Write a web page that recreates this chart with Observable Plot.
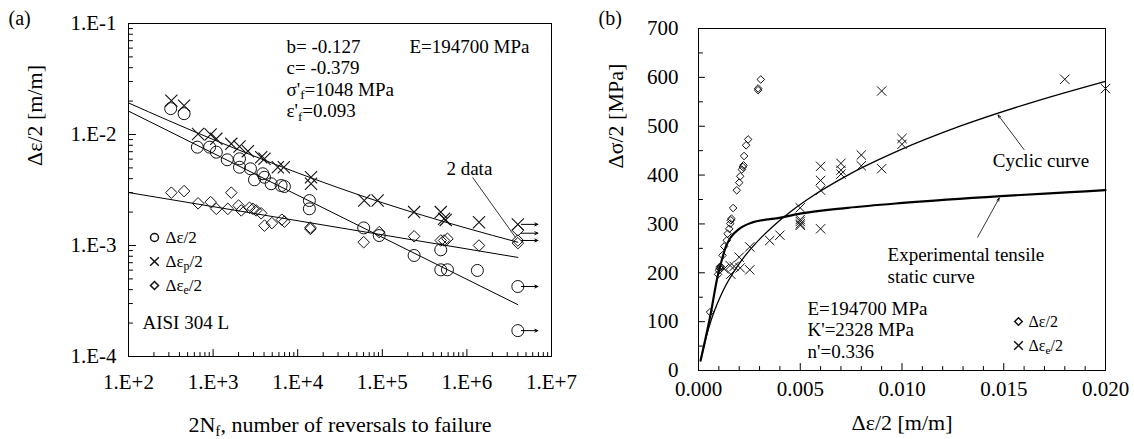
<!DOCTYPE html>
<html><head><meta charset="utf-8">
<script src="https://cdn.jsdelivr.net/npm/d3@7"></script>
<script src="https://cdn.jsdelivr.net/npm/@observablehq/plot@0.6"></script>
<style>
body{margin:0;background:#fff;}
#wrap{display:flex;width:1134px;height:439px;}
</style></head><body>
<div id="wrap"></div>
<script>
// ---------- Panel (a): strain-life ----------
const xMajorA = [1e2, 1e3, 1e4, 1e5, 1e6, 1e7];
const yMajorA = [1e-4, 1e-3, 1e-2, 1e-1];
const totalN = [100, 300, 1000, 3000, 10000, 30000, 100000, 300000, 1000000, 4000000];
const totalStrain = [0.01924, 0.01331, 0.00902, 0.00642, 0.00451, 0.00332, 0.00243, 0.00187, 0.00143, 0.00107];
const plasticN = [100, 4000000];
const plasticStrain = [0.01624, 0.000293];
const elasticN = [100, 4000000];
const elasticStrain = [0.00300, 0.000781];
const circN = [315, 454, 651, 910, 1091, 1469, 2052, 2052, 2766, 3083, 3873, 4049, 4853, 6368, 6966, 13740, 13740, 60260, 91900, 237700, 491000, 491000, 589000, 1330000, 4000000, 4000000];
const circStrain = [0.0171, 0.0154, 0.00769, 0.00769, 0.00693, 0.00592, 0.00507, 0.00604, 0.00491, 0.00391, 0.00443, 0.00412, 0.0036, 0.00347, 0.0034, 0.00254, 0.00214, 0.00144, 0.00123, 0.000813, 0.000914, 0.000604, 0.000604, 0.000596, 0.000427, 0.000171];
const crossN = [321, 454, 664, 935, 1091, 1641, 2052, 2581, 3702, 4049, 5823, 6855, 14380, 14380, 61200, 88100, 237700, 491000, 537000, 562000, 1390000, 4000000];
const crossStrain = [0.0202, 0.0182, 0.0101, 0.0100, 0.00914, 0.00824, 0.0078, 0.00708, 0.00624, 0.00604, 0.00507, 0.00507, 0.00412, 0.0036, 0.00254, 0.00254, 0.0020, 0.0020, 0.00174, 0.0017, 0.00162, 0.00155];
const diamN = [321, 454, 664, 935, 1091, 1493, 1641, 2000, 2152, 2692, 2955, 3230, 3702, 4049, 4954, 6499, 6966, 14120, 14120, 60260, 91900, 237700, 491000, 537000, 589000, 1390000, 4000000, 4000000, 4000000];
const diamStrain = [0.00299, 0.00309, 0.0024, 0.00246, 0.00214, 0.00214, 0.00299, 0.00229, 0.00207, 0.00219, 0.00214, 0.00207, 0.00195, 0.00151, 0.00159, 0.00171, 0.00164, 0.00141, 0.00145, 0.00107, 0.00132, 0.00121, 0.00111, 0.00111, 0.00115, 0.0010, 0.00137, 0.00111, 0.00105];
const runoutStrain = [0.00155, 0.00129, 0.00111, 0.000427, 0.000171];
const runoutFrom = 4.4e6, runoutTo = 6.9e6;
const twoDataLabel = {x: 1.07e6, y: 0.00491};
const twoDataLeader = {x1: 1.17e6, y1: 0.0041, x2: 3.76e6, y2: 0.00118};
const paramsA = ["b= -0.127", "c= -0.379", "σ'_{f}=1048 MPa", "ε'_{f}=0.093"];
const legendA = ["Δε/2", "Δε_{p}/2", "Δε_{e}/2"];

// ---------- Panel (b): stress-strain ----------
const xMajorB = [0, 0.005, 0.010, 0.015, 0.020];
const yMajorB = [0, 100, 200, 300, 400, 500, 600, 700];
const cyclicStrain = [0.00013, 0.000268, 0.000421, 0.0006, 0.000808, 0.00106, 0.00135, 0.0017, 0.00211, 0.00259, 0.00315, 0.00379, 0.00452, 0.00535, 0.00734, 0.00983, 0.01285, 0.01648, 0.0200];
const cyclicStress = [25, 50, 75, 100, 125, 150, 175, 200, 225, 250, 275, 300, 325, 350, 400, 450, 500, 550, 592];
const staticStrain = [0.0001, 0.0006, 0.00093, 0.0011, 0.00134, 0.00159, 0.002, 0.00257, 0.00405, 0.00498, 0.00733, 0.01003, 0.01486, 0.0183, 0.0200];
const staticStress = [20, 116, 191, 219, 253, 273, 290, 302, 313, 321, 333, 343, 357, 365, 369];
const diamBStrain = [0.00057, 0.00096, 0.00100, 0.00103, 0.00106, 0.00108, 0.00110, 0.00118, 0.00126, 0.00139, 0.00143, 0.00151, 0.00156, 0.00159, 0.00162, 0.0017, 0.00188, 0.0020, 0.00205, 0.00213, 0.00218, 0.00221, 0.00224, 0.00234, 0.00244, 0.00293, 0.00293, 0.00306];
const diamBStress = [119.5, 196.7, 205, 210, 213, 208, 212, 235.7, 254, 266.4, 280, 290, 300.6, 307.4, 310.8, 332.6, 368.9, 384.6, 397.5, 411.3, 416.6, 420, 439, 461, 473, 573.8, 577.3, 595.7];
const crossBStrain = [0.00126, 0.00155, 0.00159, 0.00175, 0.0020, 0.00205, 0.00252, 0.00252, 0.0035, 0.0040, 0.0050, 0.0050, 0.0050, 0.0050, 0.0050, 0.0060, 0.0060, 0.0060, 0.0060, 0.0070, 0.0070, 0.0070, 0.0080, 0.0080, 0.0090, 0.0090, 0.0100, 0.0100, 0.0180, 0.0200];
const crossBStress = [208, 215, 197, 213, 232, 210, 253, 206, 266, 277, 333, 309, 305, 300, 297, 290, 369, 389, 418, 424, 410, 402, 441, 419, 413, 572, 475, 463, 596, 577];
const cyclicLabel = {x: 0.01446, y: 430};
const cyclicLeader = {x1: 0.0160, y1: 452, x2: 0.01472, y2: 523};
const staticLabel = {x: 0.00929, y1: 236, y2: 191};
const staticLeader = {x1: 0.01372, y1: 273, x2: 0.01478, y2: 353};
const paramsB = ["E=194700 MPa", "K'=2328 MPa", "n'=0.336"];
const legendB = ["Δε/2", "Δε_{e}/2"];

// ---------- helpers ----------
const FONT = "Liberation Serif";
const sci = v => { const e = Math.round(Math.log10(v)); return "1.E" + (e < 0 ? "-" : "+") + Math.abs(e); };
const tickShape = {draw(c, l) { c.moveTo(0, 0); c.lineTo(0, -l); }};
const ticksX = (vals, len) => Plot.vector(vals, {x: d => d, frameAnchor: "bottom", length: len, shape: tickShape, anchor: "start", stroke: "#000", strokeWidth: 1});
const ticksY = (vals, len) => Plot.vector(vals, {y: d => d, frameAnchor: "left", length: len, rotate: 90, shape: tickShape, anchor: "start", stroke: "#000", strokeWidth: 1});
const zip = (a, b) => a.map((v, i) => ({x: v, y: b[i]}));
const txt = (data, o) => Plot.text(data, {fontFamily: FONT, ...o});
const note = (t, dx, dy, o = {}) => txt([t], {text: d => d, frameAnchor: "top-left", dx, dy, textAnchor: "start", lineAnchor: "middle", ...o});

const xMinorA = [], yMinorA = [];
for (const d of [1e2, 1e3, 1e4, 1e5, 1e6]) for (let m = 2; m <= 9; m++) xMinorA.push(d * m);
for (const d of [1e-4, 1e-3, 1e-2]) for (let m = 2; m <= 9; m++) yMinorA.push(d * m);
const xMinorB = d3.range(1, 20).filter(i => i % 5).map(i => i / 1000);
const yMinorB = d3.range(50, 700, 100);

const chartA = Plot.plot({
  width: 582, height: 439,
  marginLeft: 128, marginRight: 31, marginTop: 23, marginBottom: 83,
  x: {type: "log", domain: [1e2, 1e7]},
  y: {type: "log", domain: [1e-4, 1e-1]},
  style: {fontFamily: FONT, fontSize: "21px"},
  marks: [
    Plot.axisX({ticks: xMajorA, tickFormat: sci, tickSize: 0, tickPadding: 18, label: null, fontFamily: FONT, fontSize: 21}),
    Plot.axisY({ticks: yMajorA, tickFormat: sci, tickSize: 0, tickPadding: 12, label: null, fontFamily: FONT, fontSize: 21}),
    ticksX(xMajorA, 7), ticksX(xMinorA, 4), ticksY(yMajorA, 7), ticksY(yMinorA, 4),
    Plot.line(zip(totalN, totalStrain), {x: "x", y: "y", stroke: "#000", strokeWidth: 1, curve: "monotone-x"}),
    Plot.line(zip(plasticN, plasticStrain), {x: "x", y: "y", stroke: "#000", strokeWidth: 1}),
    Plot.line(zip(elasticN, elasticStrain), {x: "x", y: "y", stroke: "#000", strokeWidth: 1}),
    Plot.dot(zip(circN, circStrain), {x: "x", y: "y", r: 6, symbol: "circle", stroke: "#111", strokeWidth: 1, fill: "none"}),
    Plot.dot(zip(crossN, crossStrain), {x: "x", y: "y", r: 5.6, symbol: "times", stroke: "#111", strokeWidth: 1.1}),
    Plot.dot(zip(diamN, diamStrain), {x: "x", y: "y", r: 5.2, symbol: "diamond2", stroke: "#111", strokeWidth: 1, fill: "none"}),
    Plot.arrow(runoutStrain, {x1: () => runoutFrom, x2: () => runoutTo, y1: d => d, y2: d => d, stroke: "#000", strokeWidth: 1, headLength: 5, headAngle: 50}),
    Plot.link([twoDataLeader], {x1: "x1", y1: "y1", x2: "x2", y2: "y2", stroke: "#000", strokeWidth: 0.8}),
    txt([twoDataLabel], {x: "x", y: "y", text: () => "2 data", fontSize: 19}),
    ...paramsA.map((t, i) => note(t, 158, 23 + 21.5 * i, {fontSize: 19})),
    note("E=194700 MPa", 281, 23, {fontSize: 19}),
    Plot.dot([0], {frameAnchor: "top-left", dx: 26, dy: 214, r: 4, symbol: "circle", stroke: "#111", fill: "none"}),
    Plot.dot([0], {frameAnchor: "top-left", dx: 26, dy: 238, r: 4, symbol: "times", stroke: "#111"}),
    Plot.dot([0], {frameAnchor: "top-left", dx: 26, dy: 262, r: 3.6, symbol: "diamond2", stroke: "#111", fill: "none"}),
    ...legendA.map((t, i) => note(t, 37, 214 + 24 * i, {fontSize: 17})),
    note("AISI 304 L", 14, 299, {fontSize: 19}),
    note("(a)", -120, -5, {fontSize: 20}),
    txt(["2N_{f}, number of reversals to failure"], {text: d => d, frameAnchor: "bottom", dy: 68, lineAnchor: "middle", fontSize: 22}),
    txt(["Δε/2 [m/m]"], {text: d => d, frameAnchor: "left", rotate: -90, dx: -94, dy: -24, lineAnchor: "middle", fontSize: 22}),
    Plot.frame({stroke: "#000", strokeWidth: 1})
  ]
});

const chartB = Plot.plot({
  width: 552, height: 439,
  marginLeft: 116, marginRight: 29, marginTop: 28, marginBottom: 69,
  x: {domain: [0, 0.02]},
  y: {domain: [0, 700]},
  style: {fontFamily: FONT, fontSize: "21px"},
  marks: [
    Plot.axisX({ticks: xMajorB, tickFormat: d3.format(".3f"), tickSize: 0, tickPadding: 11, label: null, fontFamily: FONT, fontSize: 21}),
    Plot.axisY({ticks: yMajorB, tickFormat: d3.format("d"), tickSize: 0, tickPadding: 20, label: null, fontFamily: FONT, fontSize: 21}),
    ticksX(xMajorB, 7), ticksX(xMinorB, 4), ticksY(yMajorB, 6), ticksY(yMinorB, 4),
    Plot.line(zip(staticStrain, staticStress), {x: "x", y: "y", stroke: "#000", strokeWidth: 2.2, curve: "monotone-x"}),
    Plot.line(zip(cyclicStrain, cyclicStress), {x: "x", y: "y", stroke: "#000", strokeWidth: 1.3, curve: "monotone-x"}),
    Plot.dot(zip(diamBStrain, diamBStress), {x: "x", y: "y", r: 3.4, symbol: "diamond2", stroke: "#111", strokeWidth: 1, fill: "none"}),
    Plot.dot(zip(crossBStrain, crossBStress), {x: "x", y: "y", r: 4.3, symbol: "times", stroke: "#111", strokeWidth: 1}),
    Plot.arrow([cyclicLeader, staticLeader], {x1: "x1", y1: "y1", x2: "x2", y2: "y2", stroke: "#000", strokeWidth: 0.8, headLength: 6, headAngle: 40}),
    txt([cyclicLabel], {x: "x", y: "y", text: () => "Cyclic curve", textAnchor: "start", fontSize: 19}),
    txt([staticLabel], {x: "x", y: "y1", text: () => "Experimental tensile", textAnchor: "start", fontSize: 19}),
    txt([staticLabel], {x: "x", y: "y2", text: () => "static curve", textAnchor: "start", fontSize: 19}),
    ...paramsB.map((t, i) => note(t, 109, 280 + 21.7 * i, {fontSize: 19})),
    Plot.dot([0], {frameAnchor: "top-left", dx: 320, dy: 293, r: 3.4, symbol: "diamond2", stroke: "#111", fill: "none"}),
    Plot.dot([0], {frameAnchor: "top-left", dx: 320, dy: 317, r: 4, symbol: "times", stroke: "#111"}),
    ...legendB.map((t, i) => note(t, 330, 293 + 24 * i, {fontSize: 16})),
    note("(b)", -100, -10, {fontSize: 20}),
    txt(["Δε/2 [m/m]"], {text: d => d, frameAnchor: "bottom", dy: 52, lineAnchor: "middle", fontSize: 22}),
    txt(["Δσ/2 [MPa]"], {text: d => d, frameAnchor: "left", rotate: -90, dx: -83, dy: -31, lineAnchor: "middle", fontSize: 22}),
    Plot.frame({stroke: "#000", strokeWidth: 1})
  ]
});

function subify(svg) {
  const NS = "http://www.w3.org/2000/svg";
  svg.querySelectorAll("text").forEach(t => {
    const s = t.textContent;
    if (!s.includes("_{")) return;
    while (t.firstChild) t.removeChild(t.firstChild);
    let shifted = false;
    for (const p of s.split(/(_\{[^}]*\})/)) {
      if (!p) continue;
      const ts = document.createElementNS(NS, "tspan");
      if (p.startsWith("_{")) {
        ts.textContent = p.slice(2, -1);
        ts.setAttribute("font-size", "0.7em");
        ts.setAttribute("dy", "0.28em");
        shifted = true;
      } else {
        ts.textContent = p;
        if (shifted) { ts.setAttribute("dy", "-0.196em"); shifted = false; }
      }
      t.appendChild(ts);
    }
  });
}
subify(chartA); subify(chartB);
const wrap = document.getElementById("wrap");
wrap.appendChild(chartA);
wrap.appendChild(chartB);
</script>
</body></html>
